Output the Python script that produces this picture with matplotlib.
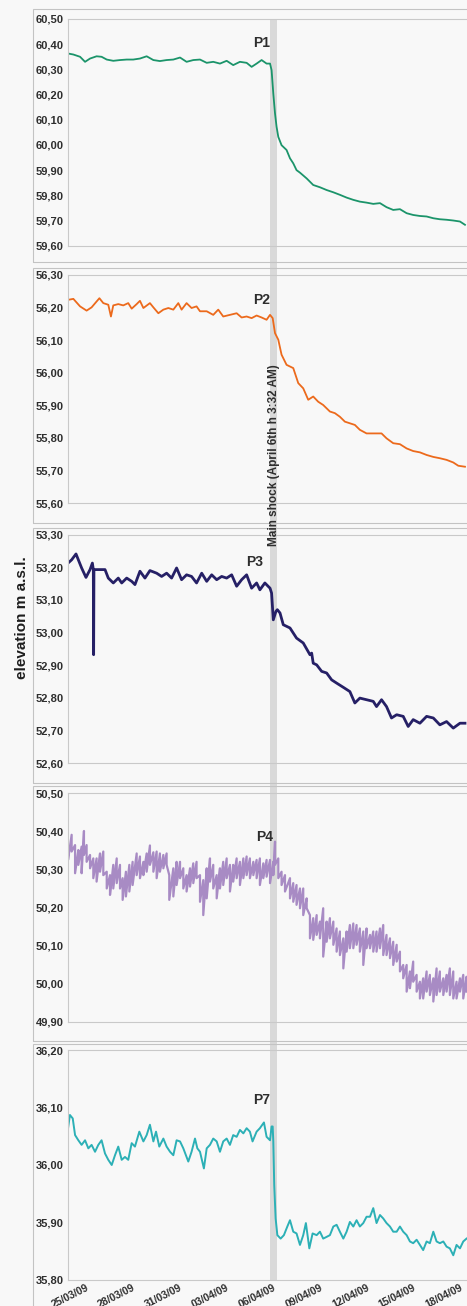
import numpy as np
import pandas as pd
import matplotlib
matplotlib.use("Agg")
import matplotlib.pyplot as plt
import matplotlib.dates as mdates
from matplotlib.patches import Rectangle
from matplotlib.ticker import MultipleLocator, FuncFormatter
from matplotlib.transforms import blended_transform_factory, ScaledTranslation

plt.rcParams['font.family'] = ['Liberation Sans', 'DejaVu Sans']

# ---------------------------------------------------------------- data
# time is expressed in days after 25/03/2009 00:00
START = pd.Timestamp('2009-03-25 00:00')
X_MIN = pd.Timestamp('2009-03-24 04:00')
X_MAX = pd.Timestamp('2009-04-18 18:00')
SHOCK = pd.Timestamp('2009-04-06 03:32')
SHOCK_BAND_HOURS = 10

tick_dates = ['2009-03-25', '2009-03-28', '2009-03-31', '2009-04-03', '2009-04-06',
              '2009-04-09', '2009-04-12', '2009-04-15', '2009-04-18']
tick_labels = ['25/03/09', '28/03/09', '31/03/09', '03/04/09', '06/04/09',
               '09/04/09', '12/04/09', '15/04/09', '18/04/09']

p1_days = [-0.83, -0.49, -0.06, 0.26, 0.58, 1.00, 1.32, 1.65, 2.07, 2.50, 2.93, 3.35,
           3.78, 4.21, 4.64, 5.06, 5.49, 5.92, 6.35, 6.77, 7.20, 7.63, 8.06, 8.48,
           8.91, 9.34, 9.76, 10.19, 10.62, 10.94, 11.26, 11.58, 11.90, 12.12, 12.22,
           12.33, 12.44, 12.54, 12.65, 12.86, 13.18, 13.40, 13.61, 13.82, 14.04, 14.47,
           14.89, 15.32, 15.75, 16.18, 16.60, 17.03, 17.46, 17.88, 18.31, 18.74, 19.17,
           19.59, 20.02, 20.45, 20.88, 21.30, 21.73, 22.16, 22.59, 23.01, 23.44, 23.87,
           24.30, 24.62]
p1_elev = [60.363, 60.359, 60.350, 60.330, 60.343, 60.352, 60.350, 60.339, 60.334, 60.337,
           60.339, 60.339, 60.343, 60.352, 60.337, 60.333, 60.337, 60.339, 60.347, 60.330,
           60.337, 60.339, 60.326, 60.330, 60.323, 60.334, 60.317, 60.330, 60.326, 60.310,
           60.323, 60.337, 60.323, 60.323, 60.297, 60.204, 60.125, 60.072, 60.032, 59.999,
           59.980, 59.947, 59.927, 59.900, 59.890, 59.867, 59.841, 59.832, 59.821, 59.812,
           59.802, 59.791, 59.782, 59.775, 59.771, 59.766, 59.769, 59.753, 59.742, 59.745,
           59.729, 59.722, 59.718, 59.716, 59.709, 59.705, 59.703, 59.700, 59.696, 59.683]

p2_days = [-0.83, -0.49, -0.06, 0.36, 0.68, 1.00, 1.18, 1.43, 1.75, 1.92, 2.07, 2.39,
           2.71, 3.03, 3.25, 3.57, 3.78, 4.00, 4.42, 4.64, 4.96, 5.28, 5.60, 5.92, 6.24,
           6.45, 6.77, 7.09, 7.41, 7.63, 8.06, 8.48, 8.80, 9.12, 9.55, 9.98, 10.30,
           10.62, 10.94, 11.26, 11.58, 11.90, 12.12, 12.29, 12.44, 12.65, 12.86, 13.18,
           13.61, 13.93, 14.25, 14.57, 14.89, 15.21, 15.53, 15.96, 16.28, 16.60, 16.92,
           17.24, 17.56, 17.88, 18.31, 18.74, 19.27, 19.59, 20.02, 20.45, 20.88, 21.30,
           21.73, 22.16, 22.59, 23.01, 23.44, 23.87, 24.19, 24.62]
p2_elev = [56.223, 56.226, 56.203, 56.190, 56.200, 56.218, 56.228, 56.213, 56.208, 56.172,
           56.206, 56.210, 56.206, 56.213, 56.196, 56.210, 56.220, 56.198, 56.213, 56.200,
           56.182, 56.193, 56.198, 56.193, 56.213, 56.193, 56.213, 56.198, 56.203, 56.188,
           56.188, 56.177, 56.193, 56.172, 56.177, 56.182, 56.169, 56.172, 56.167, 56.175,
           56.169, 56.162, 56.177, 56.167, 56.121, 56.101, 56.055, 56.024, 56.014, 55.968,
           55.952, 55.917, 55.927, 55.911, 55.901, 55.881, 55.876, 55.865, 55.850, 55.845,
           55.840, 55.825, 55.814, 55.814, 55.814, 55.799, 55.784, 55.781, 55.768, 55.760,
           55.756, 55.748, 55.742, 55.738, 55.733, 55.725, 55.715, 55.712]

p3_days = [-0.83, -0.60, -0.32, -0.17, 0.04, 0.32, 0.58, 0.73, 0.79, 0.81, 0.83, 0.90,
           1.22, 1.54, 1.75, 2.07, 2.39, 2.61, 2.93, 3.25, 3.46, 3.78, 4.10, 4.42, 4.85,
           5.17, 5.49, 5.81, 6.13, 6.45, 6.77, 7.09, 7.41, 7.74, 8.06, 8.38, 8.70, 9.02,
           9.34, 9.66, 9.98, 10.30, 10.62, 10.94, 11.26, 11.47, 11.79, 12.12, 12.22,
           12.33, 12.50, 12.59, 12.76, 12.97, 13.40, 13.82, 14.25, 14.68, 14.79, 14.89,
           15.11, 15.43, 15.75, 16.07, 16.39, 16.82, 17.24, 17.56, 17.88, 18.31, 18.74,
           18.95, 19.27, 19.59, 19.91, 20.24, 20.66, 20.98, 21.30, 21.73, 22.16, 22.59,
           23.01, 23.44, 23.87, 24.30, 24.62]
p3_elev = [53.213, 53.223, 53.241, 53.223, 53.198, 53.169, 53.193, 53.213, 53.193, 52.932,
           53.193, 53.193, 53.193, 53.193, 53.167, 53.152, 53.167, 53.152, 53.167, 53.157,
           53.147, 53.188, 53.167, 53.190, 53.182, 53.172, 53.182, 53.167, 53.198, 53.162,
           53.177, 53.172, 53.152, 53.182, 53.157, 53.177, 53.162, 53.172, 53.167, 53.177,
           53.142, 53.162, 53.177, 53.136, 53.152, 53.131, 53.152, 53.136, 53.121, 53.039,
           53.065, 53.070, 53.060, 53.024, 53.014, 52.983, 52.968, 52.932, 52.937, 52.906,
           52.901, 52.881, 52.876, 52.855, 52.845, 52.832, 52.819, 52.784, 52.799, 52.794,
           52.789, 52.773, 52.794, 52.773, 52.738, 52.748, 52.743, 52.712, 52.733, 52.722,
           52.743, 52.738, 52.717, 52.727, 52.707, 52.722, 52.722]

# P4 oscillates quickly: upper and lower turning points of the trace
p4_days = [-0.83, -0.60, -0.38, -0.17, 0.04, 0.19, 0.36, 0.58, 0.79, 1.00,
           1.22, 1.43, 1.65, 1.86, 2.07, 2.29, 2.50, 2.67, 2.88, 3.10,
           3.31, 3.57, 3.78, 4.00, 4.21, 4.42, 4.64, 4.85, 5.06, 5.28,
           5.49, 5.66, 5.92, 6.13, 6.35, 6.56, 6.77, 6.99, 7.20, 7.41,
           7.63, 7.84, 8.06, 8.27, 8.48, 8.70, 8.91, 9.12, 9.34, 9.55,
           9.76, 9.98, 10.19, 10.41, 10.62, 10.83, 11.05, 11.26, 11.47, 11.69,
           11.90, 12.12, 12.33, 12.44, 12.65, 12.86, 13.08, 13.40, 13.61, 13.82,
           14.04, 14.25, 14.47, 14.68, 14.89, 15.11, 15.32, 15.53, 15.75, 15.96,
           16.18, 16.39, 16.60, 16.82, 17.03, 17.24, 17.46, 17.67, 17.88, 18.10,
           18.31, 18.53, 18.74, 18.95, 19.17, 19.38, 19.59, 19.81, 20.02, 20.24,
           20.45, 20.66, 20.88, 21.09, 21.30, 21.52, 21.73, 21.94, 22.16, 22.37,
           22.59, 22.80, 23.01, 23.23, 23.44, 23.65, 23.87, 24.08, 24.30, 24.51,
           24.72]
p4_high = [50.356, 50.391, 50.364, 50.351, 50.360, 50.401, 50.364, 50.338, 50.329, 50.329,
           50.342, 50.347, 50.294, 50.285, 50.312, 50.329, 50.312, 50.277, 50.294, 50.312,
           50.320, 50.342, 50.334, 50.320, 50.342, 50.363, 50.345, 50.347, 50.342, 50.338,
           50.342, 50.285, 50.303, 50.320, 50.320, 50.303, 50.285, 50.303, 50.316, 50.320,
           50.285, 50.272, 50.303, 50.329, 50.312, 50.285, 50.303, 50.320, 50.329, 50.312,
           50.312, 50.329, 50.320, 50.329, 50.334, 50.329, 50.320, 50.325, 50.329, 50.316,
           50.325, 50.325, 50.320, 50.373, 50.329, 50.294, 50.285, 50.277, 50.264, 50.259,
           50.250, 50.250, 50.224, 50.180, 50.172, 50.180, 50.163, 50.198, 50.163, 50.172,
           50.163, 50.145, 50.137, 50.119, 50.137, 50.154, 50.158, 50.154, 50.145, 50.137,
           50.145, 50.128, 50.137, 50.137, 50.145, 50.154, 50.128, 50.119, 50.110, 50.102,
           50.084, 50.049, 50.049, 50.032, 50.058, 50.023, 50.005, 50.014, 50.032, 50.023,
           50.014, 50.040, 50.032, 50.014, 50.023, 50.040, 50.032, 50.005, 50.014, 50.023,
           50.018]
p4_low = [50.325, 50.347, 50.290, 50.312, 50.290, 50.338, 50.320, 50.303, 50.277, 50.268,
          50.294, 50.285, 50.250, 50.233, 50.250, 50.264, 50.250, 50.220, 50.229, 50.242,
          50.259, 50.285, 50.277, 50.285, 50.294, 50.312, 50.294, 50.277, 50.294, 50.303,
          50.312, 50.220, 50.229, 50.259, 50.277, 50.250, 50.242, 50.255, 50.264, 50.277,
          50.215, 50.180, 50.224, 50.268, 50.250, 50.224, 50.250, 50.259, 50.277, 50.242,
          50.268, 50.277, 50.259, 50.277, 50.285, 50.277, 50.285, 50.277, 50.259, 50.277,
          50.281, 50.264, 50.285, 50.312, 50.277, 50.259, 50.242, 50.224, 50.215, 50.207,
          50.198, 50.180, 50.198, 50.119, 50.115, 50.128, 50.119, 50.071, 50.110, 50.119,
          50.102, 50.084, 50.075, 50.040, 50.084, 50.093, 50.093, 50.102, 50.084, 50.049,
          50.093, 50.093, 50.084, 50.084, 50.093, 50.075, 50.075, 50.067, 50.049, 50.058,
          50.032, 50.014, 49.979, 49.988, 50.005, 49.979, 49.961, 49.961, 49.979, 49.970,
          49.953, 49.970, 49.979, 49.970, 49.979, 49.970, 49.961, 49.961, 49.979, 49.961,
          49.979]

p7_days = [-0.83, -0.71, -0.53, -0.38, -0.17, 0.04, 0.26, 0.47, 0.68, 0.90, 1.11, 1.32,
           1.54, 1.75, 1.97, 2.18, 2.39, 2.61, 2.82, 3.03, 3.25, 3.46, 3.74, 4.00, 4.21,
           4.42, 4.64, 4.81, 5.02, 5.28, 5.49, 5.71, 5.92, 6.13, 6.35, 6.56, 6.88, 7.09,
           7.31, 7.46, 7.63, 7.88, 8.06, 8.27, 8.48, 8.70, 8.91, 9.12, 9.34, 9.55, 9.76,
           9.98, 10.19, 10.41, 10.62, 10.83, 11.00, 11.26, 11.47, 11.73, 11.90, 12.12,
           12.22, 12.29, 12.33, 12.39, 12.48, 12.59, 12.80, 13.01, 13.23, 13.40, 13.61,
           13.82, 14.04, 14.25, 14.42, 14.64, 14.85, 15.11, 15.32, 15.53, 15.75, 15.96,
           16.18, 16.39, 16.60, 16.82, 17.03, 17.24, 17.46, 17.67, 17.88, 18.10, 18.31,
           18.53, 18.74, 18.95, 19.17, 19.38, 19.59, 19.81, 20.02, 20.24, 20.45, 20.66,
           20.88, 21.09, 21.30, 21.52, 21.73, 21.94, 22.16, 22.37, 22.59, 22.80, 23.01,
           23.23, 23.44, 23.65, 23.87, 24.08, 24.30, 24.51, 24.72]
p7_elev = [36.064, 36.087, 36.081, 36.052, 36.043, 36.035, 36.043, 36.029, 36.035, 36.023,
           36.035, 36.043, 36.020, 36.009, 36.000, 36.017, 36.032, 36.009, 36.014, 36.009,
           36.038, 36.032, 36.058, 36.041, 36.052, 36.070, 36.041, 36.058, 36.032, 36.046,
           36.032, 36.023, 36.017, 36.043, 36.041, 36.029, 36.006, 36.023, 36.046, 36.029,
           36.023, 35.994, 36.029, 36.035, 36.046, 36.041, 36.023, 36.041, 36.046, 36.035,
           36.052, 36.049, 36.061, 36.055, 36.064, 36.058, 36.041, 36.058, 36.064, 36.074,
           36.049, 36.043, 36.067, 36.067, 36.041, 35.965, 35.907, 35.878, 35.872, 35.878,
           35.893, 35.904, 35.884, 35.881, 35.861, 35.878, 35.899, 35.855, 35.881, 35.878,
           35.884, 35.872, 35.875, 35.878, 35.893, 35.896, 35.884, 35.872, 35.884, 35.901,
           35.893, 35.904, 35.893, 35.899, 35.910, 35.910, 35.925, 35.899, 35.913, 35.907,
           35.899, 35.893, 35.884, 35.884, 35.893, 35.884, 35.878, 35.867, 35.864, 35.870,
           35.861, 35.852, 35.867, 35.864, 35.884, 35.867, 35.864, 35.867, 35.858, 35.855,
           35.843, 35.861, 35.855, 35.867, 35.872]


def to_dates(days):
    return START + pd.to_timedelta(np.asarray(days), unit='D')


# ---------------------------------------------------------------- layout
W, H = 467, 1306
fig = plt.figure(figsize=(W / 100, H / 100), dpi=100, facecolor='#f8f8f8')

GRID_C = '#c9c9c9'
TEXT_C = '#2e2e2e'

# (inner top, inner bottom, outer top, outer bottom) in pixels from the top
frames = [(19, 245.7, 9.3, 262),
          (274.7, 503.3, 268, 522.7),
          (534.7, 763, 528.3, 783.3),
          (793.3, 1021.7, 785.7, 1041),
          (1050, 1280, 1044.3, 1330)]

panels = [
    dict(name='P1', ylim=(59.60, 60.50), color='#1b946a', lw=1.3, lab=(11.6, 60.405)),
    dict(name='P2', ylim=(55.60, 56.30), color='#ec6a1c', lw=1.3, lab=(11.6, 56.222)),
    dict(name='P3', ylim=(52.60, 53.30), color='#262066', lw=2.0, lab=(11.15, 53.216)),
    dict(name='P4', ylim=(49.90, 50.50), color='#a88bc4', lw=1.6, lab=(11.75, 50.385)),
    dict(name='P7', ylim=(35.80, 36.20), color='#2cb0b6', lw=1.4, lab=(11.6, 36.113)),
]

comma_fmt = FuncFormatter(lambda v, _: f"{v:.2f}".replace('.', ','))
axes = []
for (top, bot, otop, obot), spec in zip(frames, panels):
    ax = fig.add_axes([68 / W, 1 - bot / H, (W - 68) / W, (bot - top) / H])
    ax.set_facecolor('none')
    ax.set_xlim(X_MIN, X_MAX)
    ax.set_ylim(*spec['ylim'])
    ax.yaxis.set_major_locator(MultipleLocator(0.1))
    ax.yaxis.set_major_formatter(comma_fmt)
    ax.tick_params(axis='y', length=0, pad=3.2, labelsize=8, labelcolor=TEXT_C)
    for lab in ax.get_yticklabels():
        lab.set_fontweight('bold')
    for side in ('left', 'bottom', 'top'):
        ax.spines[side].set_color(GRID_C)
        ax.spines[side].set_linewidth(0.8)
    ax.spines['right'].set_visible(False)
    ax.set_xticks([])
    axes.append(ax)
    # outer frame around each panel
    fig.add_artist(Rectangle((33 / W, 1 - obot / H), (W + 20 - 33) / W, (obot - otop) / H,
                             transform=fig.transFigure, fill=False,
                             edgecolor='#c3c3c3', linewidth=0.8, zorder=-0.5))

ax1, ax2, ax3, ax4, ax5 = axes

ax1.plot(to_dates(p1_days), p1_elev, color=panels[0]['color'], lw=panels[0]['lw'])
ax2.plot(to_dates(p2_days), p2_elev, color=panels[1]['color'], lw=panels[1]['lw'])
ax3.plot(to_dates(p3_days), p3_elev, color=panels[2]['color'], lw=panels[2]['lw'])
# P4: trace swings between its upper and lower turning points
p4_x = to_dates(np.repeat(p4_days, 2))
p4_y = np.column_stack([p4_high, p4_low]).ravel()
ax4.plot(p4_x, p4_y, color=panels[3]['color'], lw=panels[3]['lw'])
ax5.plot(to_dates(p7_days), p7_elev, color=panels[4]['color'], lw=panels[4]['lw'])

for ax, spec in zip(axes, panels):
    tx, ty = spec['lab']
    ax.text(START + pd.Timedelta(days=tx), ty, spec['name'], ha='center', va='center',
            fontsize=10, fontweight='bold', color=TEXT_C)

# date axis on the bottom panel
ax5.set_xticks(pd.to_datetime(tick_dates))
ax5.set_xticklabels(tick_labels)
ax5.tick_params(axis='x', length=0, pad=2, labelsize=7.5, labelcolor=TEXT_C)
shift = ScaledTranslation(9 / 100, 0, fig.dpi_scale_trans)
for lab in ax5.get_xticklabels():
    lab.set_rotation(27)
    lab.set_ha('right')
    lab.set_fontweight('bold')
    lab.set_transform(lab.get_transform() + shift)

# main shock band running through all panels
band_tr = blended_transform_factory(ax5.transData, fig.transFigure)
band_x0 = mdates.date2num(SHOCK)
band_w = SHOCK_BAND_HOURS / 24
fig.add_artist(Rectangle((band_x0, 1 - 1280 / H), band_w, (1280 - 19) / H,
                         transform=band_tr, facecolor='#d9d9d9', edgecolor='none',
                         zorder=-1))
fig.text(band_x0 + band_w / 2, 1 - 455 / H, 'Main shock (April 6th h 3:32 AM)',
         transform=band_tr, rotation=90, ha='center', va='center',
         fontsize=8.5, fontweight='bold', color=TEXT_C)

fig.text(22 / W, 1 - 618 / H, 'elevation m a.s.l.', rotation=90, ha='center',
         va='center', fontsize=11, fontweight='bold', color='#1e1e1e')

fig.savefig('out.png', dpi=100, facecolor=fig.get_facecolor())
